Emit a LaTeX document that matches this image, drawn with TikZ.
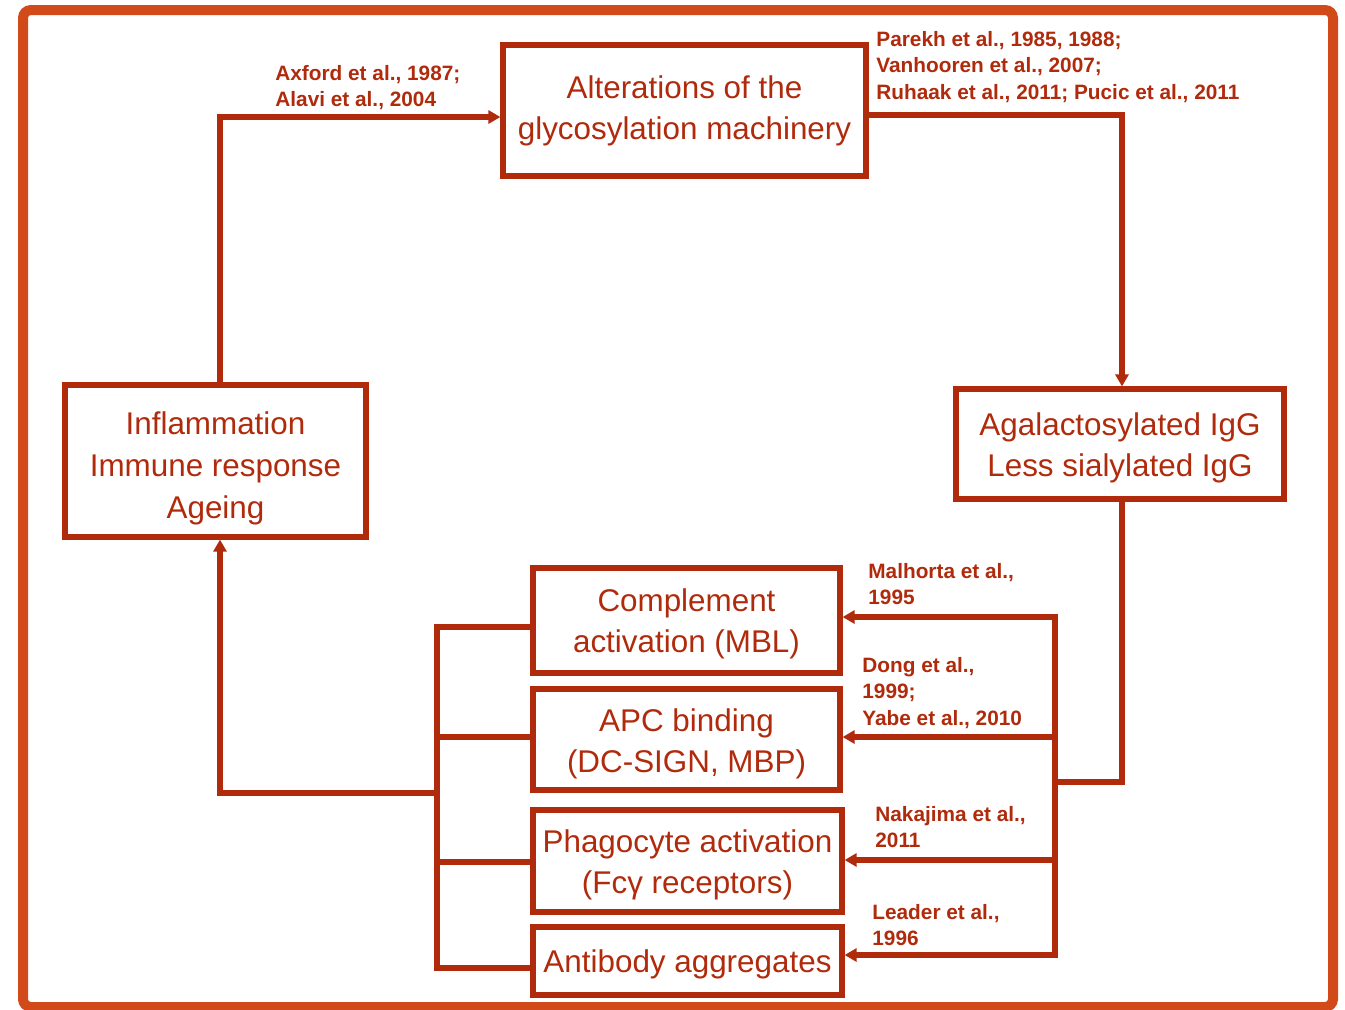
\documentclass[tikz,border=0pt]{standalone}
\usepackage{fontspec}
\setmainfont{Liberation Sans}
\usetikzlibrary{arrows.meta}
\definecolor{dr}{RGB}{176,42,12}
\definecolor{fr}{RGB}{211,74,26}
\newcommand{\upstrut}[1]{\rule{0pt}{#1}}
\begin{document}
\begin{tikzpicture}[x=0.5pt,y=-0.5pt,
  box/.style={draw=dr, line width=2.6pt, text=dr, align=center, inner sep=0pt,
    font=\fontsize{15.7}{20.5}\selectfont},
  cite/.style={text=dr, align=left, anchor=north west, inner sep=0pt,
    font=\fontsize{10.4}{13.25}\selectfont\bfseries},
  conn/.style={draw=dr, line width=2.6pt},
  arr/.style={conn, -{Triangle[length=6pt,width=6.5pt]}}]
\useasboundingbox (0,0) rectangle (1345,1009);
\draw[fr, line width=5pt, rounded corners=4pt] (23,10) rectangle (1333,1007);

% boxes
\node[box, minimum width=181.5pt, minimum height=65.5pt] (alt) at (684.5,110.5) {Alterations of the\\glycosylation machinery};
\node[box, minimum width=150.5pt, minimum height=76pt, font=\fontsize{15.7}{21}\selectfont] (inf) at (215.5,461) {\upstrut{19pt}Inflammation\\Immune response\\Ageing};
\node[box, minimum width=164pt, minimum height=55pt] (aga) at (1120,444) {\upstrut{15.5pt}Agalactosylated IgG\\Less sialylated IgG};
\node[box, minimum width=153.5pt, minimum height=52.5pt] (comp) at (686.5,620.5) {\upstrut{15pt}Complement\\activation (MBL)};
\node[box, minimum width=153.5pt, minimum height=50.5pt] (apc) at (686.5,739.5) {\upstrut{15.5pt}APC binding\\(DC-SIGN, MBP)};
\node[box, minimum width=154.5pt, minimum height=51pt] (pha) at (687.5,861) {\upstrut{15pt}Phagocyte activation\\(Fcγ receptors)};
\node[box, minimum width=154.5pt, minimum height=34pt] (ant) at (687.5,961) {\upstrut{14.5pt}Antibody aggregates};

% bus coordinates
\coordinate (r1) at (1055,617);
\coordinate (r2) at (1055,737);
\coordinate (r3) at (1055,860);
\coordinate (r4) at (1055,955);
\coordinate (rj) at (1055,782);
\coordinate (l1) at (437,627);
\coordinate (l2) at (437,737);
\coordinate (l3) at (437,862);
\coordinate (l4) at (437,968);
\coordinate (lj) at (437,793);

% connectors
\draw[arr] ([xshift=2.25pt]inf.north) |- ([yshift=-3.25pt]alt.west);
\draw[arr] ([yshift=-2.25pt]alt.east) -| ([xshift=1pt]aga.north);
\draw[conn] ([xshift=1pt]aga.south) |- (rj);
\draw[conn, line cap=rect] (r1) -- (r4);
\draw[arr] (r1) -- (comp.east |- r1);
\draw[arr] (r2) -- (apc.east |- r2);
\draw[arr] (r3) -- (pha.east |- r3);
\draw[arr] (r4) -- (ant.east |- r4);
\draw[conn] (comp.west |- l1) -- (l1) -- (l4) -- (ant.west |- l4);
\draw[conn] (apc.west |- l2) -- (l2);
\draw[conn] (pha.west |- l3) -- (l3);
\draw[arr] (lj) -| ([xshift=2.25pt]inf.south);

% citations
\node[cite] (c1) at (275,65) {Axford et al., 1987;\\Alavi et al., 2004};
\node[cite] (c2) at (876,31) {Parekh et al., 1985, 1988;\\Vanhooren et al., 2007;\\Ruhaak et al., 2011; Pucic et al., 2011};
\node[cite] (c3) at (868,563) {Malhorta et al.,\\1995};
\node[cite] (c4) at (862,657) {Dong et al.,\\1999;\\Yabe et al., 2010};
\node[cite] (c5) at (875,806) {Nakajima et al.,\\2011};
\node[cite] (c6) at (872,904) {Leader et al.,\\1996};
\end{tikzpicture}
\end{document}
